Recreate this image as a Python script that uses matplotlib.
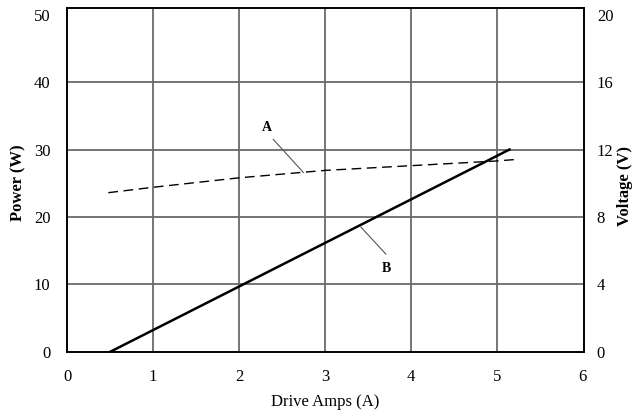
import matplotlib
matplotlib.use("Agg")
import matplotlib.pyplot as plt

plt.rcParams['font.family'] = ['Liberation Serif', 'DejaVu Serif']

# Data
b_amps = [0.5, 5.15]
b_power = [0, 30]

a_amps = [0.48, 1, 2, 3, 4, 5, 5.2]
a_volts = [9.44, 9.76, 10.32, 10.76, 11.04, 11.32, 11.4]

x_ticks = [0, 1, 2, 3, 4, 5, 6]
power_ticks = [0, 10, 20, 30, 40, 50]
volt_ticks = [0, 4, 8, 12, 16, 20]

W, H = 633, 413
fig = plt.figure(figsize=(6.33, 4.13), dpi=100)
ax = fig.add_axes([0.106, 0.148, 0.817, 0.833])
ax2 = ax.twinx()

ax.set_xlim(0, 6.02)
ax.set_ylim(0, 51)
ax2.set_ylim(0, 51 * 0.4)

grid_col = '#6a6a6a'
for x in x_ticks[1:-1]:
    ax.axvline(x, color=grid_col, lw=1.3, zorder=1)
for y in power_ticks[1:-1]:
    ax.axhline(y, color=grid_col, lw=1.3, zorder=1)

ax.plot(b_amps, b_power, color='black', lw=1.8, zorder=3)
ax2.plot(a_amps, a_volts, color='black', lw=1.0, dashes=(7, 4), zorder=3)

# Annotations
ax.text(2.33, 33.3, 'A', ha='center', va='center', fontsize=10, fontweight='bold')
ax.plot([2.40, 2.75], [31.5, 26.6], color='#555555', lw=0.8)
ax.text(3.72, 12.4, 'B', ha='center', va='center', fontsize=10, fontweight='bold')
ax.plot([3.42, 3.71], [18.5, 14.5], color='#555555', lw=0.8)

ax.set_xticks(x_ticks)
ax.set_yticks(power_ticks)
ax2.set_yticks(volt_ticks)
ax.tick_params(axis='x', length=0, labelsize=12, pad=12)
ax.tick_params(axis='y', length=0, labelsize=12, pad=12)
ax2.tick_params(axis='y', length=0, labelsize=12, pad=9)
ax.set_xlabel('Drive Amps (A)', fontsize=12, labelpad=7)

fig.text(18 / W, 1 - 183 / H, 'Power (W)', rotation=90, ha='center', va='center',
         fontsize=12, fontweight='bold')
fig.text(625 / W, 1 - 186 / H, 'Voltage (V)', rotation=90, ha='center', va='center',
         fontsize=12, fontweight='bold')

for a in (ax, ax2):
    for s in a.spines.values():
        s.set_color('black')
        s.set_linewidth(1.2)

fig.savefig('out.png', dpi=100)
